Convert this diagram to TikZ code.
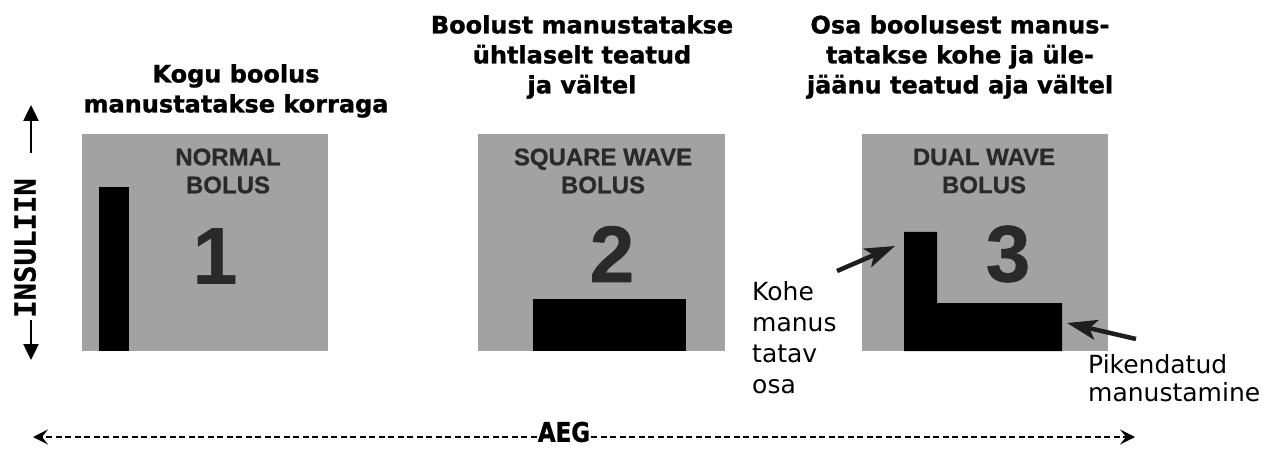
\documentclass[tikz,border=0pt]{standalone}
\usepackage{fontspec}
\setmainfont{DejaVu Sans}
\newfontfamily\headfont[BoldFeatures={FakeBold=1.2}]{DejaVu Sans}
\newfontfamily\arialfont[BoldFeatures={FakeBold=0.8}]{Liberation Sans}
\newfontfamily\dvmono[BoldFeatures={FakeBold=0.8}]{DejaVu Sans Mono}
\usetikzlibrary{arrows.meta}
\definecolor{boxgray}{HTML}{A2A2A2}
\definecolor{boxtext}{HTML}{2A2A2A}
\definecolor{arrowdark}{HTML}{1E1E1E}
\begin{document}
\begin{tikzpicture}[x=1pt,y=-1pt,
  panel/.style={fill=boxgray, draw=none, minimum height=217pt, inner sep=0pt, anchor=north west},
  paneltitle/.style={font=\arialfont\bfseries\fontsize{24}{28}\selectfont, text=boxtext, align=center, inner sep=0pt},
  digit/.style={font=\arialfont\bfseries\fontsize{80}{80}\selectfont, text=boxtext, inner sep=0pt},
  heading/.style={font=\headfont\bfseries\fontsize{24}{30}\selectfont, align=center, anchor=north, inner sep=0pt},
  note/.style={font=\fontsize{25}{31}\selectfont, align=left, anchor=north west, inner sep=0pt},
  pointer/.style={line width=4.5pt, draw=arrowdark, -{Stealth[length=30pt,width=20pt,inset=7pt]}},
  axis/.style={line width=2.5pt, -{Triangle[length=16pt,width=15pt]}},
  timeaxis/.style={line width=2.2pt, dash pattern=on 6pt off 3.5pt, -{Stealth[length=15pt,width=15pt,inset=6pt]}},
  bar/.style={fill=black, draw=none}]
\useasboundingbox (0,0) rectangle (1272,449);

% headings
\node[heading] (h1) at (236,64) {Kogu boolus\\manustatakse korraga};
\node[heading] (h2) at (582,15) {Boolust manustatakse\\ühtlaselt teatud\\ja vältel};
\node[heading] (h3) at (960,15) {Osa boolusest manus-\\tatakse kohe ja üle-\\jäänu teatud aja vältel};

% panels
\node[panel, minimum width=246pt] (p1) at (82,134) {};
\node[panel, minimum width=247pt] (p2) at (478,134) {};
\node[panel, minimum width=246pt] (p3) at (862,134) {};

\node[paneltitle] (t1) at (228,171) {NORMAL\\BOLUS};
\node[paneltitle] (t2) at (603,171) {SQUARE WAVE\\BOLUS};
\node[paneltitle] (t3) at (984,171) {DUAL WAVE\\BOLUS};

\node[digit] (d1) at (215,256) {1};
\node[digit] (d2) at (612,254) {2};
\node[digit] (d3) at (1008,254) {3};

% bars
\fill[bar] (99,187) rectangle (129,351);
\fill[bar] (533,299) rectangle (686,351);
\fill[bar] (904,232) -- (937,232) -- (937,303) -- (1062,303) -- (1062,351) -- (904,351) -- cycle;

% labels and pointers
\node[note] (kohe) at (752,281) {Kohe\\manus\\tatav\\osa};
\node[note, font=\fontsize{25}{28}\selectfont] (pik) at (1088,354) {Pikendatud\\manustamine};
\coordinate (kt) at (837,271);
\coordinate (kh) at (895,246);
\draw[pointer] (kt) -- (kh);
\coordinate (pt) at (1136,339);
\coordinate (ph) at (1067,323);
\draw[pointer] (pt) -- (ph);

% insulin axis
\node[font=\dvmono\bfseries\fontsize{29}{29}\selectfont, rotate=90, inner sep=0pt] (ins) at (25,248) {INSULIIN};
\coordinate (yup) at (31,153);
\coordinate (ytop) at (31,105);
\coordinate (ylow) at (31,320);
\coordinate (ybot) at (31,360);
\draw[axis] (yup) -- (ytop);
\draw[axis] (ylow) -- (ybot);

% time axis
\node[font=\headfont\bfseries\fontsize{27}{27}\selectfont, xscale=0.85, inner sep=1pt] (aeg) at (564,432) {AEG};
\coordinate (tl) at (33,437);
\coordinate (tr) at (1135,437);
\draw[timeaxis] (aeg.west |- tl) -- (tl);
\draw[timeaxis] (aeg.east |- tr) -- (tr);
\end{tikzpicture}
\end{document}
